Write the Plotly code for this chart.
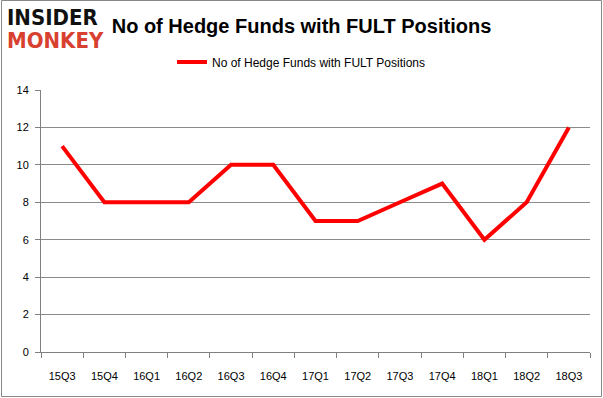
import plotly.graph_objects as go

quarters = ["15Q3", "15Q4", "16Q1", "16Q2", "16Q3", "16Q4", "17Q1", "17Q2", "17Q3", "17Q4", "18Q1", "18Q2", "18Q3"]
funds = [11, 8, 8, 8, 10, 10, 7, 7, 8, 9, 6, 8, 12]
series_name = "No of Hedge Funds with FULT Positions"
y_ticks = [0, 2, 4, 6, 8, 10, 12, 14]

L, R, T, B = 41, 13, 90, 46
PW, PH = 603 - L - R, 398 - T - B

def px(x):
    return (x - L) / PW

def py(y):
    return (398 - B - y) / PH

fig = go.Figure()
fig.add_trace(go.Scatter(
    x=quarters, y=funds, mode="lines", name=series_name,
    line=dict(color="#ff0000", width=4),
))

fig.update_layout(
    width=603, height=398,
    margin=dict(l=L, r=R, t=T, b=B, autoexpand=False),
    paper_bgcolor="white", plot_bgcolor="white",
    font=dict(family="Liberation Sans, Arial", size=11, color="#000000"),
    title=dict(text="<b>No of Hedge Funds with FULT Positions</b>", x=0.5, xanchor="center",
               y=1 - 26 / 398, yanchor="middle", font=dict(size=20, family="Liberation Sans, Arial", color="#000")),
    showlegend=True,
    legend=dict(orientation="h", x=px(301), xanchor="center", y=py(62), yanchor="middle",
                font=dict(size=12), bgcolor="rgba(0,0,0,0)"),
    xaxis=dict(
        type="category", showline=True, linecolor="#808080", linewidth=1,
        ticks="outside", ticklen=5, tickcolor="#808080", tickson="boundaries",
        showgrid=False, range=[-0.5, 12.5], fixedrange=True,
        tickfont=dict(size=11), ticklabelstandoff=14,
    ),
    yaxis=dict(
        range=[0, 14], tickvals=y_ticks, showline=True, linecolor="#808080", linewidth=1,
        ticks="outside", ticklen=5, tickcolor="#808080",
        showgrid=True, gridcolor="#8a8a8a", gridwidth=1, zeroline=False,
        tickfont=dict(size=11), ticklabelstandoff=4, fixedrange=True,
    ),
    shapes=[dict(type="rect", xref="paper", yref="paper", x0=px(1.5), x1=px(601.5),
                 y0=py(396.5), y1=py(0.5), line=dict(color="#888888", width=1))],
    annotations=[
        dict(text="<b>INSIDER</b>", xref="paper", yref="paper", x=px(5), y=py(17),
             xanchor="left", yanchor="middle", showarrow=False,
             font=dict(size=22, color="#111111", family="DejaVu Sans Condensed, DejaVu Sans")),
        dict(text="<b>MONKEY</b>", xref="paper", yref="paper", x=px(5), y=py(40),
             xanchor="left", yanchor="middle", showarrow=False,
             font=dict(size=22, color="#d8412f", family="DejaVu Sans Condensed, DejaVu Sans")),
    ],
)

fig.write_html("out.html", config={"displayModeBar": False},
               post_script="document.body.style.margin='0';")
